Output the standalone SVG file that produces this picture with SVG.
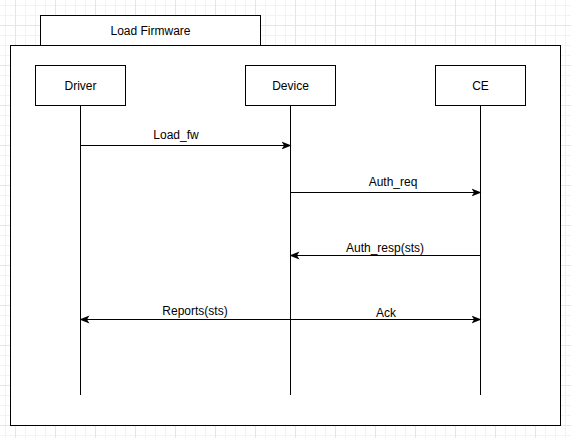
<svg xmlns="http://www.w3.org/2000/svg" width="571" height="438" viewBox="0 0 571 438">
<defs>
<pattern id="minor" width="10" height="10" patternUnits="userSpaceOnUse" x="5" y="5">
<path d="M0 0.5H10M0.5 0V10" fill="none" stroke="#f3f3f3" stroke-width="1"/>
</pattern>
<pattern id="major" width="40" height="40" patternUnits="userSpaceOnUse" x="15" y="25">
<path d="M0 0.5H40M0.5 0V40" fill="none" stroke="#e6e6e6" stroke-width="1"/>
</pattern>
<marker id="arr" viewBox="0 0 10 10" refX="9" refY="5" markerWidth="10" markerHeight="10" markerUnits="userSpaceOnUse" orient="auto-start-reverse">
<path d="M0 1 L10 5 L0 9 L2.5 5 Z" fill="#000"/>
</marker>
</defs>
<style>
.box{fill:#fff;stroke:#000;stroke-width:1}
.life{stroke:#000;stroke-width:1;fill:none}
.msg{stroke:#000;stroke-width:1;fill:none}
text{font-family:"Liberation Sans",Arial,Helvetica,sans-serif;font-size:12px;fill:#000;text-anchor:middle}
</style>
<rect width="571" height="438" fill="#fff"/>
<rect width="571" height="438" fill="url(#minor)"/>
<rect width="571" height="438" fill="url(#major)"/>
<g id="frame">
<rect class="box" x="40.5" y="15.5" width="220" height="30"/>
<text x="150.5" y="35">Load Firmware</text>
<rect class="box" x="10.5" y="45.5" width="550" height="380"/>
</g>
<g id="driver">
<rect class="box" x="35.5" y="65.5" width="90" height="40"/>
<text x="80.5" y="90">Driver</text>
<line class="life" x1="80.5" y1="105.5" x2="80.5" y2="395"/>
</g>
<g id="device">
<rect class="box" x="245.5" y="65.5" width="90" height="40"/>
<text x="290.5" y="90">Device</text>
<line class="life" x1="290.5" y1="105.5" x2="290.5" y2="395"/>
</g>
<g id="ce">
<rect class="box" x="435.5" y="65.5" width="90" height="40"/>
<text x="480.5" y="90">CE</text>
<line class="life" x1="480.5" y1="105.5" x2="480.5" y2="395"/>
</g>
<g id="connectors">
<line class="msg" x1="80.5" y1="145.5" x2="290.5" y2="145.5" marker-end="url(#arr)"/>
<text x="176" y="139">Load_fw</text>
<line class="msg" x1="290.5" y1="192.5" x2="480.5" y2="192.5" marker-end="url(#arr)"/>
<text x="393" y="186">Auth_req</text>
<line class="msg" x1="480.5" y1="255.5" x2="290.5" y2="255.5" marker-end="url(#arr)"/>
<text x="385" y="252">Auth_resp(sts)</text>
<line class="msg" x1="80.5" y1="319.5" x2="480.5" y2="319.5" marker-start="url(#arr)" marker-end="url(#arr)"/>
<text x="195" y="315">Reports(sts)</text>
<text x="386" y="317">Ack</text>
</g>
</svg>
